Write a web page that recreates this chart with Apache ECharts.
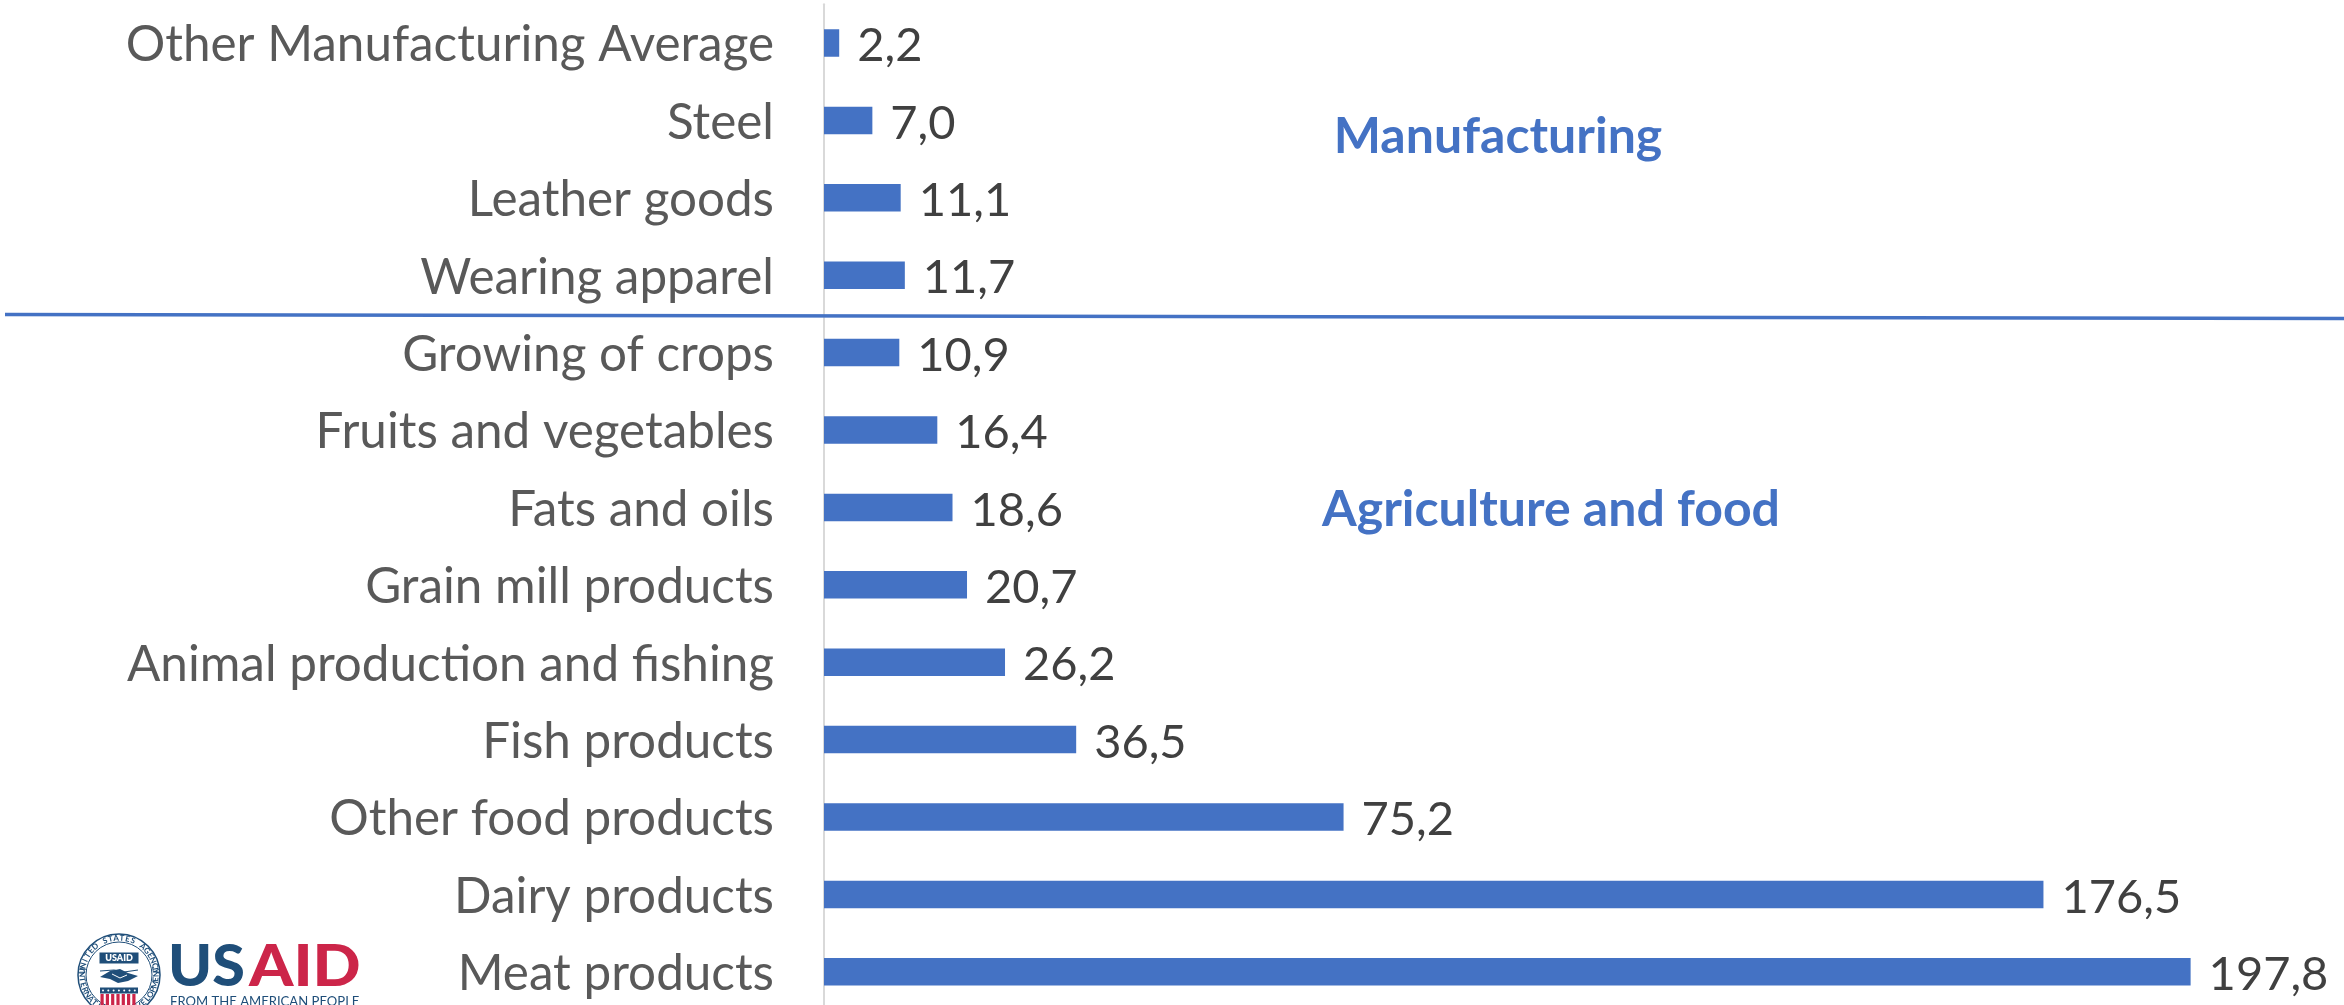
<!DOCTYPE html>
<html>
<head>
<meta charset="utf-8">
<style>html,body{margin:0;padding:0;background:#fff;overflow:hidden;height:1005px}#chart{width:2344px;height:1030px}</style>
<script src="https://cdn.jsdelivr.net/npm/echarts@6/dist/echarts.min.js"></script>
</head>
<body>
<div id="chart"></div>
<script>
// Sector categories, top row first
const categories = ['Other Manufacturing Average','Steel','Leather goods','Wearing apparel','Growing of crops','Fruits and vegetables','Fats and oils','Grain mill products','Animal production and fishing','Fish products','Other food products','Dairy products','Meat products'];
const values = [2.2,7.0,11.1,11.7,10.9,16.4,18.6,20.7,26.2,36.5,75.2,176.5,197.8];
const groupLabels = ['Manufacturing','Agriculture and food'];

const FONT = 'Lato';
const BLUE = '#4472c4';
const NAVY = '#1f4e79';
const RED = '#cc2549';

// Letters set around the seal's ring, one rotated text per glyph
function ringText(str, cx, cy, r, midAngle, step, flip) {
  const n = str.length;
  return str.split('').map((ch, i) => {
    const a = midAngle + (i - (n - 1) / 2) * step * (flip ? -1 : 1);
    const x = cx + r * Math.cos(a), y = cy + r * Math.sin(a);
    return {
      type: 'text', x, y,
      rotation: flip ? -(a - Math.PI / 2) : -(a + Math.PI / 2),
      style: { text: ch, fill: NAVY, font: '700 8px ' + FONT, align: 'center', verticalAlign: 'middle' }
    };
  });
}

function sealElements() {
  const cx = 119, cy = 975, els = [];
  els.push({ type: 'circle', shape: { cx, cy, r: 41 }, style: { fill: '#fff', stroke: NAVY, lineWidth: 1.5 } });
  els.push({ type: 'circle', shape: { cx, cy, r: 33 }, style: { fill: '#fff', stroke: NAVY, lineWidth: 1 } });
  els.push(...ringText('UNITED STATES AGENCY', cx, cy, 37, -Math.PI / 2, 0.155, false));
  els.push(...ringText('INTERNATIONAL DEVELOPMENT', cx, cy, 37, Math.PI / 2, 0.145, true));
  // Name plate
  els.push({ type: 'rect', shape: { x: 99.5, y: 952.5, width: 39, height: 11 }, style: { fill: NAVY } });
  els.push({ type: 'text', x: 119, y: 958, style: { text: 'USAID', fill: '#fff', font: '800 9px ' + FONT, align: 'center', verticalAlign: 'middle' } });
  // Clasped hands
  els.push({ type: 'polyline', shape: { points: [[100, 971], [114, 970], [124, 972], [138, 970]] }, style: { stroke: NAVY, lineWidth: 1.2, fill: null } });
  els.push({ type: 'polygon', shape: { points: [[100, 977], [110, 971], [120, 969], [128, 973], [138, 976], [128, 981], [118, 983], [110, 979]] }, style: { fill: NAVY } });
  els.push({ type: 'polyline', shape: { points: [[112, 974], [120, 978], [127, 975]] }, style: { stroke: '#fff', lineWidth: 1, fill: null } });
  // Shield: starred band over red stripes
  els.push({ type: 'rect', shape: { x: 100, y: 987.5, width: 38, height: 6 }, style: { fill: NAVY } });
  for (let i = 0; i < 7; i++) {
    els.push({ type: 'circle', shape: { cx: 103 + i * 5.3, cy: 990.5, r: 1 }, style: { fill: '#fff' } });
  }
  for (let i = 0; i < 7; i++) {
    els.push({ type: 'rect', shape: { x: 100.5 + i * 5.3, y: 994, width: 3.2, height: 11 }, style: { fill: RED } });
  }
  return els;
}

function logoElements() {
  return [
    ...sealElements(),
    { type: 'text', x: 168, y: 968, scaleX: 1.04, style: { text: 'US', fill: NAVY, font: '900 57px ' + FONT, align: 'left', verticalAlign: 'middle' } },
    { type: 'text', x: 249, y: 968, scaleX: 1.11, style: { text: 'AID', fill: RED, font: '900 57px ' + FONT, align: 'left', verticalAlign: 'middle' } },
    { type: 'text', x: 170, y: 1002, style: { text: 'FROM THE AMERICAN PEOPLE', fill: NAVY, font: '400 13.1px ' + FONT, align: 'left', verticalAlign: 'middle' } }
  ];
}

const chart = echarts.init(document.getElementById('chart'), null, { renderer: 'canvas' });
chart.setOption({
  animation: false,
  backgroundColor: '#fff',
  grid: { left: 824, top: 4.3, width: 1520, height: 1006.2, containLabel: false },
  xAxis: { type: 'value', min: 0, max: 220, show: false },
  yAxis: {
    type: 'category', data: categories, inverse: true,
    axisLine: { show: true, lineStyle: { color: '#d9d9d9', width: 2 } },
    axisTick: { show: false },
    axisLabel: {
      color: '#595959', fontFamily: FONT, fontSize: 49.4, margin: 50, interval: 0,
      formatter: name => '{row|' + name + '}',
      rich: { row: { color: '#595959', fontFamily: FONT, fontSize: 49.4, padding: [5, 0, 0, 0] } }
    }
  },
  series: [{
    type: 'bar', data: values, barWidth: 27.5,
    itemStyle: { color: BLUE },
    label: {
      show: true, position: 'right', distance: 18, offset: [0, 3],
      color: '#404040', fontFamily: FONT, fontSize: 47,
      formatter: p => p.value.toFixed(1).replace('.', ',')
    }
  }],
  graphic: [
    { type: 'line', shape: { x1: 5, y1: 314.5, x2: 2344, y2: 318.5 }, style: { stroke: BLUE, lineWidth: 3.5 }, z: 10 },
    { type: 'text', x: 1498, y: 137, z: 10, style: { text: groupLabels[0], fill: BLUE, font: '700 50px ' + FONT, align: 'center', verticalAlign: 'middle' } },
    { type: 'text', x: 1551, y: 510, z: 10, style: { text: groupLabels[1], fill: BLUE, font: '700 50px ' + FONT, align: 'center', verticalAlign: 'middle' } },
    { type: 'group', z: 20, children: logoElements() }
  ]
});
</script>
</body>
</html>
